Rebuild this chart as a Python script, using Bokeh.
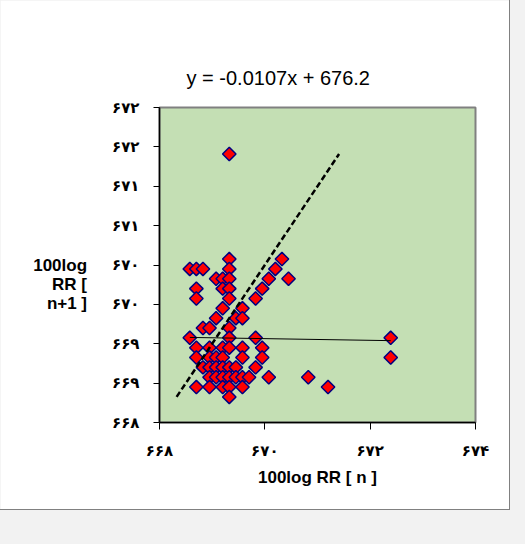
import numpy as np
from bokeh.plotting import figure
from bokeh.models import Range1d, FixedTicker, Title
from bokeh.embed import file_html
from bokeh.resources import INLINE

# ---- data ----
rr_n = [669.325,
        669.325, 670.325,
        668.575, 668.7, 668.825, 669.325, 670.2,
        669.075, 669.2, 669.325, 670.075, 670.45,
        668.7, 669.2, 669.325, 669.95,
        668.7, 669.325, 669.825,
        669.2, 669.575,
        669.075, 669.45, 669.575,
        668.825, 668.95, 669.325,
        668.575, 669.325, 669.825, 672.39,
        668.7, 668.95, 669.2, 669.325, 669.575, 669.95,
        668.7, 668.95, 669.075, 669.2, 669.575, 669.95, 672.39,
        668.825, 668.95, 669.075, 669.2, 669.325, 669.45, 669.825,
        668.95, 669.075, 669.2, 669.325, 669.45, 669.575, 669.7, 670.075, 670.825,
        668.7, 668.95, 669.2, 669.325, 669.575, 671.2,
        669.325]
rr_n1 = [671.41,
         670.075, 670.075,
         669.95, 669.95, 669.95, 669.95, 669.95,
         669.825, 669.825, 669.825, 669.825, 669.825,
         669.7, 669.7, 669.7, 669.7,
         669.575, 669.575, 669.575,
         669.45, 669.45,
         669.325, 669.325, 669.325,
         669.2, 669.2, 669.2,
         669.075, 669.075, 669.075, 669.075,
         668.95, 668.95, 668.95, 668.95, 668.95, 668.95,
         668.825, 668.825, 668.825, 668.825, 668.825, 668.825, 668.825,
         668.7, 668.7, 668.7, 668.7, 668.7, 668.7, 668.7,
         668.575, 668.575, 668.575, 668.575, 668.575, 668.575, 668.575, 668.575, 668.575,
         668.45, 668.45, 668.45, 668.45, 668.45, 668.45,
         668.325]

trend_slope = -0.0107
trend_intercept = 676.234
trend_text = "y = -0.0107x + 676.2"

x_ticks = [668, 670, 672, 674]
x_tick_labels = ["۶۶۸", "۶۷۰", "۶۷۲", "۶۷۴"]
y_ticks = [668, 668.5, 669, 669.5, 670, 670.5, 671, 671.5, 672]
y_tick_labels = ["۶۶۸", "۶۶۹", "۶۶۹", "۶۷۰", "۶۷۰", "۶۷۱", "۶۷۱", "۶۷۲", "۶۷۲"]

x_title = "100log RR [ n ]"
y_title_lines = ["100log", "RR [", "n+1 ]"]

# ---- figure ----
p = figure(width=509, height=509, output_backend="svg", toolbar_location=None,
           x_range=Range1d(668, 674), y_range=Range1d(668, 672),
           min_border_left=159, min_border_right=34, min_border_top=107, min_border_bottom=87,
           background_fill_color="#c4dfb4", border_fill_color="white")
p.styles = {"outline": "1px solid #808080"}
p.outline_line_color = "#808080"
p.outline_line_width = 2
p.grid.visible = False

for ax, ticks, labels, tout in ((p.xaxis[0], x_ticks, x_tick_labels, 7),
                                (p.yaxis[0], y_ticks, y_tick_labels, 6)):
    ax.ticker = FixedTicker(ticks=ticks)
    ax.major_label_overrides = {t: l for t, l in zip(ticks, labels)}
    ax.major_tick_in = 0
    ax.major_tick_out = tout
    ax.minor_tick_line_color = None
    ax.axis_line_color = "black"
    ax.axis_line_width = 1.5
    ax.major_tick_line_color = "black"
    ax.major_tick_line_width = 1
    ax.major_label_text_font = "DejaVu Sans"
    ax.major_label_text_font_style = "bold"
    ax.major_label_text_font_size = "15px"
    ax.major_label_text_color = "black"
    ax.axis_label_text_font = "Liberation Sans"
    ax.axis_label_text_font_size = "17px"
    ax.axis_label_text_font_style = "bold"
    ax.axis_label_text_color = "black"
p.xaxis[0].major_label_standoff = 12
p.yaxis[0].major_label_standoff = 14

# axis titles
p.xaxis[0].axis_label = x_title
p.xaxis[0].axis_label_standoff = 5
p.yaxis[0].axis_label = "\n".join([" ", " "] + y_title_lines)
p.yaxis[0].axis_label_orientation = "horizontal"
p.yaxis[0].axis_label_text_line_height = 1.0
p.yaxis[0].axis_label_standoff = 22

# scatter
p.scatter(rr_n, rr_n1, marker="square", size=9.5, angle=np.pi / 4,
          fill_color="#ff0000", line_color="#000080", line_width=1.5)

# identity line over data range
lo, hi = min(rr_n1), max(rr_n1)
p.line([lo, hi], [lo, hi], line_color="black", line_width=2.5, line_dash="6 3")

# linear trend line
x0, x1 = min(rr_n), max(rr_n)
p.line([x0, x1], [trend_slope * x0 + trend_intercept, trend_slope * x1 + trend_intercept],
       line_color="black", line_width=1)

# chart title (trend equation)
p.add_layout(Title(text=trend_text, align="left", offset=27, standoff=37,
                   text_font="Liberation Sans", text_font_size="20px",
                   text_font_style="normal", text_color="black"), "above")

try:
    from bokeh.models import GlobalInlineStyleSheet
    p.stylesheets = [GlobalInlineStyleSheet(css="body { background-color: #f2f2f2; }")]
except Exception:
    pass

open("out.html", "w").write(file_html(p, INLINE))
